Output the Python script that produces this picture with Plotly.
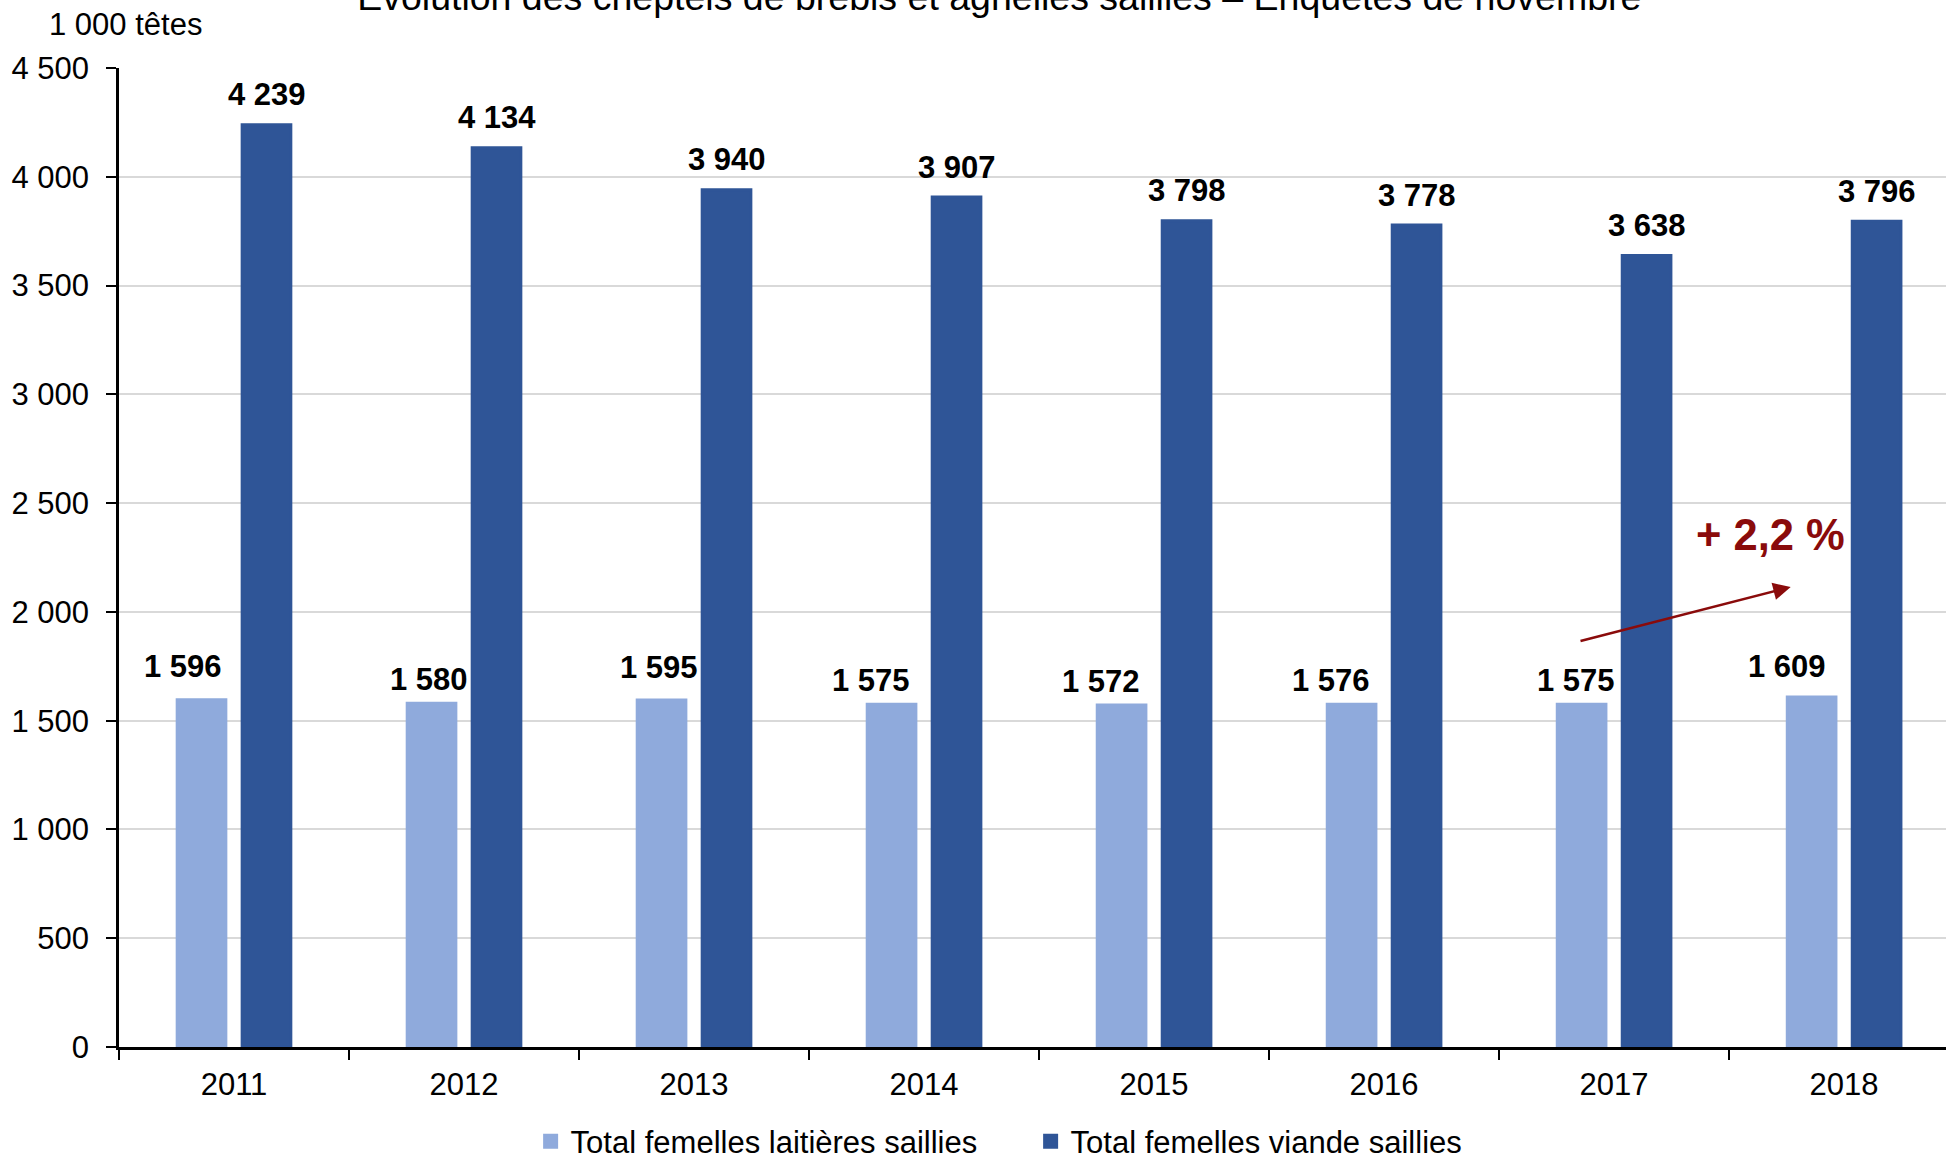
import plotly.graph_objects as go

# ---- data ----
years = ["2011", "2012", "2013", "2014", "2015", "2016", "2017", "2018"]
laitieres = [1596, 1580, 1595, 1575, 1572, 1576, 1575, 1609]
viande = [4239, 4134, 3940, 3907, 3798, 3778, 3638, 3796]
series_names = ["Total femelles laitières saillies", "Total femelles viande saillies"]
y_tickvals = [0, 500, 1000, 1500, 2000, 2500, 3000, 3500, 4000, 4500]
y_ticktext = ["0", "500", "1 000", "1 500", "2 000", "2 500", "3 000", "3 500", "4 000", "4 500"]
title_text = "Évolution des cheptels de brebis et agnelles saillies – Enquêtes de novembre"
unit_text = "1 000 têtes"
evolution_text = "+ 2,2 %"

# ---- style ----
FONT = "Liberation Sans, Arial, sans-serif"
LIGHT = "#8FAADC"
DARK = "#2F5597"
RED = "#8A0B0B"
FS = 31
# manual label placement (pixels) as in the original chart
light_dx = [-19, -3, -3, -21, -21, -21, -6, -25]
light_dy = [33, 24, 33, 24, 24, 24, 24, 30]
dark_dx = [0] * 8
dark_dy = [30] * 8
BAR_OFF = 32.5


def fmt(v):
    return f"{v:,}".replace(",", " ")


fig = go.Figure()
fig.add_trace(go.Bar(x=years, y=laitieres, name=series_names[0],
                     marker=dict(color=LIGHT, line=dict(color=LIGHT, width=3))))
fig.add_trace(go.Bar(x=years, y=viande, name=series_names[1],
                     marker=dict(color=DARK, line=dict(color=DARK, width=3))))

annotations = []
for i, yr in enumerate(years):
    annotations.append(dict(
        x=i, y=laitieres[i], xref="x", yref="y", text=fmt(laitieres[i]), showarrow=False,
        xanchor="center", yanchor="middle", xshift=-BAR_OFF + light_dx[i], yshift=light_dy[i],
        font=dict(family=FONT, size=FS, color="black", weight="bold")))
    annotations.append(dict(
        x=i, y=viande[i], xref="x", yref="y", text=fmt(viande[i]), showarrow=False,
        xanchor="center", yanchor="middle", xshift=BAR_OFF + dark_dx[i], yshift=dark_dy[i],
        font=dict(family=FONT, size=FS, color="black", weight="bold")))

# unit label
annotations.append(dict(x=-0.0396, y=1.0442, xref="paper", yref="paper", text=unit_text,
                        showarrow=False, xanchor="left", yanchor="middle",
                        font=dict(family=FONT, size=FS, color="black")))
# evolution label
annotations.append(dict(x=0.9037, y=0.5225, xref="paper", yref="paper", text=evolution_text,
                        showarrow=False, xanchor="center", yanchor="middle",
                        font=dict(family=FONT, size=43.5, color=RED, weight="bold")))
# arrow
annotations.append(dict(x=0.915, y=0.4699, xref="paper", yref="paper", text="",
                        showarrow=True, ax=-211.7, ay=54.4, axref="pixel", ayref="pixel",
                        arrowhead=2, arrowsize=1.4, arrowwidth=2.5, arrowcolor=RED, standoff=0))

fig.update_layout(
    width=1946, height=1156,
    margin=dict(l=119, r=0, t=68, b=109, pad=0, autoexpand=False),
    paper_bgcolor="white", plot_bgcolor="white",
    barmode="group", bargap=0.435, bargroupgap=0.251,
    font=dict(family=FONT, size=FS, color="black"),
    title=dict(text=title_text, x=0.5135, xanchor="center", xref="container",
               y=1 - 10 / 1156, yanchor="bottom", yref="container",
               font=dict(family=FONT, size=37.5, color="black")),
    showlegend=True,
    legend=dict(orientation="h", x=0.2253, xanchor="left", y=-0.0967, yanchor="middle",
                font=dict(family=FONT, size=FS, color="black"),
                entrywidth=455, entrywidthmode="pixels", bgcolor="rgba(0,0,0,0)",
                traceorder="normal"),
    annotations=annotations,
)

fig.update_xaxes(
    type="category", range=[-0.5, 7.443],
    showline=True, linecolor="black", linewidth=3,
    ticks="outside", tickson="boundaries", ticklen=10, tickwidth=2, tickcolor="black",
    tickfont=dict(family=FONT, size=FS, color="black"), ticklabelstandoff=8,
    showgrid=False, zeroline=False, fixedrange=True,
)
fig.update_yaxes(
    range=[0, 4500], tickvals=y_tickvals, ticktext=y_ticktext,
    showline=True, linecolor="black", linewidth=2.5,
    ticks="outside", ticklen=10, tickwidth=2, tickcolor="black",
    tickfont=dict(family=FONT, size=FS, color="black"), ticklabelstandoff=11,
    showgrid=True, gridcolor="#D9D9D9", gridwidth=2, zeroline=False, fixedrange=True,
)

fig.write_html("out.html", config={"displayModeBar": False},
               post_script="document.body.style.margin='0';document.body.style.overflow='hidden';")
